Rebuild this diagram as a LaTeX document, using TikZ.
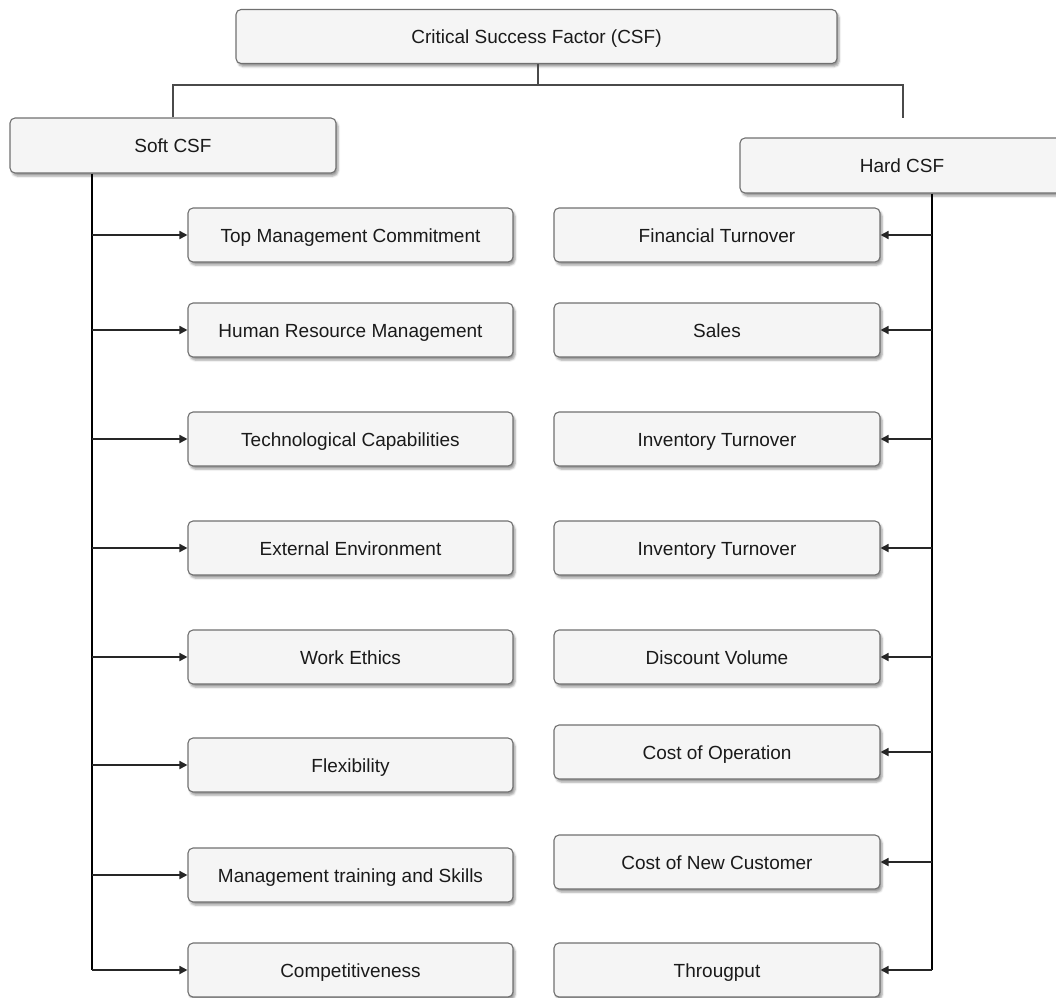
\documentclass[tikz,border=0pt]{standalone}
\usepackage{fontspec}
\setmainfont{Liberation Sans}
\usetikzlibrary{arrows.meta,shadows.blur}
\definecolor{boxfill}{HTML}{F5F5F5}
\definecolor{boxline}{HTML}{707070}
\definecolor{linkgray}{HTML}{4A4A4A}
\definecolor{txt}{HTML}{1A1A1A}
\begin{document}
\begin{tikzpicture}[x=1pt,y=-1pt,
  csfbox/.style={draw=boxline, line width=1.1pt, fill=boxfill, rounded corners=5pt,
    minimum height=54pt, inner sep=0pt, text=txt, text height=14pt, text depth=0pt,
    font=\fontsize{19}{22}\selectfont,
    blur shadow={shadow xshift=2pt, shadow yshift=-3pt, shadow opacity=40, shadow blur steps=4}},
  leftbox/.style={csfbox, minimum width=325pt},
  rightbox/.style={csfbox, minimum width=326pt},
  toplink/.style={draw=linkgray, line width=1.5pt},
  trunk/.style={draw=black, line width=2pt},
  branch/.style={draw=black!85, line width=1.7pt, -{Triangle[length=8pt,width=8pt]}},
]
\clip (0,0) rectangle (1056,997);

% top level and the two groups
\node[csfbox, minimum width=601pt] (top) at (536.5,36.5) {Critical Success Factor (CSF)};
\node[csfbox, minimum width=326pt, minimum height=55pt] (soft) at (173,145.5) {Soft CSF};
\node[csfbox, minimum width=324pt, minimum height=55pt] (hard) at (902,165.5) {Hard CSF};

% soft factors
\node[leftbox] (s1) at (350.5,235) {Top Management Commitment};
\node[leftbox] (s2) at (350.5,330) {Human Resource Management};
\node[leftbox] (s3) at (350.5,439) {Technological Capabilities};
\node[leftbox] (s4) at (350.5,548) {External Environment};
\node[leftbox] (s5) at (350.5,657) {Work Ethics};
\node[leftbox] (s6) at (350.5,765) {Flexibility};
\node[leftbox] (s7) at (350.5,875) {Management training and Skills};
\node[leftbox] (s8) at (350.5,970) {Competitiveness};

% hard factors
\node[rightbox] (h1) at (717,235) {Financial Turnover};
\node[rightbox] (h2) at (717,330) {Sales};
\node[rightbox] (h3) at (717,439) {Inventory Turnover};
\node[rightbox] (h4) at (717,548) {Inventory Turnover};
\node[rightbox] (h5) at (717,657) {Discount Volume};
\node[rightbox] (h6) at (717,752) {Cost of Operation};
\node[rightbox] (h7) at (717,862) {Cost of New Customer};
\node[rightbox] (h8) at (717,970) {Througput};

% trunk positions and the open end above Hard CSF
\coordinate (stem) at (538,85);
\coordinate (hardend) at (903,118);
\coordinate (ltrunk) at (92,0);
\coordinate (rtrunk) at (932,0);

% top connectors
\draw[toplink] (top.south -| stem) -- (stem);
\draw[toplink] (soft.north) |- (stem) -| (hardend);

% soft trunk and branches
\draw[trunk] (soft.south -| ltrunk) -- (s8.west -| ltrunk);
\foreach \n in {s1,s2,s3,s4,s5,s6,s7,s8}
  \draw[branch] (\n.west -| ltrunk) -- (\n.west);

% hard trunk and branches
\draw[trunk] (hard.south -| rtrunk) -- (h8.east -| rtrunk);
\foreach \n in {h1,h2,h3,h4,h5,h6,h7,h8}
  \draw[branch] (\n.east -| rtrunk) -- (\n.east);
\end{tikzpicture}
\end{document}
